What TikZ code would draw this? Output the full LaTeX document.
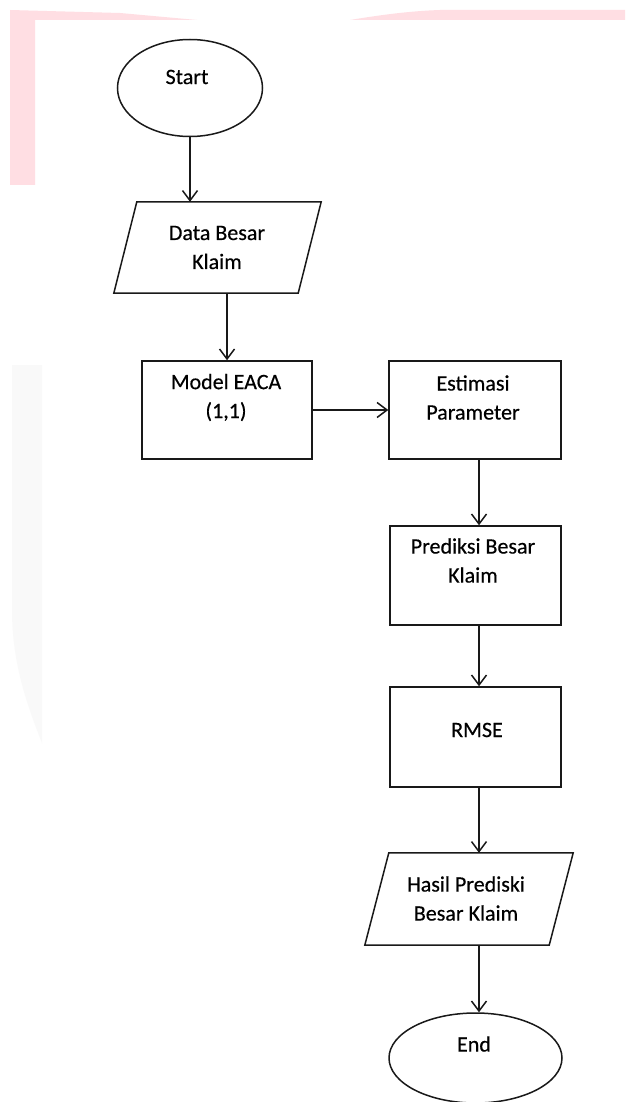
\documentclass[tikz,border=0pt]{standalone}
\usepackage{fontspec}
\setmainfont{Carlito}
\newfontfamily\flowfont[FakeBold=0.4]{Carlito}
\usetikzlibrary{arrows.meta,shapes.geometric}
\definecolor{wmpink}{RGB}{255,222,227}
\definecolor{wmgray}{RGB}{249,249,249}
\definecolor{ln}{RGB}{25,25,25}
\begin{document}
\begin{tikzpicture}[x=1pt,y=-1pt,
  procbox/.style={draw=ln,line width=1.5pt,rectangle,minimum width=171pt,minimum height=99pt,inner sep=0pt},
  term/.style={draw=ln,line width=1.5pt,ellipse,inner sep=0pt},
  iobound/.style={rectangle,inner sep=0pt},
  ioline/.style={draw=ln,line width=1.5pt,line join=miter},
  arr/.style={draw=ln,line width=1.5pt,-{Straight Barb[length=10pt,width=15pt,line width=1.5pt]}},
  txt/.style={font=\flowfont\fontsize{22}{29}\selectfont,align=center,inner sep=0pt,text=black}]
\useasboundingbox (0,0) rectangle (625,1102);
\fill[white] (0,0) rectangle (625,1102);
% watermark
\fill[wmpink] (10,10) -- (120,13) -- (197,20) -- (35,20) -- (35,185) -- (10,185) -- cycle;
\fill[wmpink] (350,20) .. controls (380,15) and (410,11) .. (440,10) -- (625,10) -- (625,20) -- cycle;
\fill[wmgray] (12,365) -- (42,365) -- (42,743) .. controls (25,700) and (12,660) .. (12,610) -- cycle;
% shapes
\node[term,minimum width=145pt,minimum height=97pt] (start) at (190,88) {};
\node[iobound,minimum width=207pt,minimum height=91pt] (data) at (217.5,247.5) {};
\draw[ioline] ([xshift=23pt]data.north west) -- (data.north east) -- ([xshift=-23pt]data.south east) -- (data.south west) -- cycle;
\node[procbox,minimum width=170pt,minimum height=98pt] (model) at (227,410) {};
\node[procbox,minimum width=172pt,minimum height=98pt] (est) at (475,410) {};
\node[procbox] (pred) at (475.5,575.5) {};
\node[procbox,minimum height=100pt] (rmse) at (475.5,737) {};
\node[iobound,minimum width=208pt,minimum height=92pt] (hasil) at (469,899) {};
\draw[ioline] ([xshift=24pt]hasil.north west) -- (hasil.north east) -- ([xshift=-24pt]hasil.south east) -- (hasil.south west) -- cycle;
\node[term,minimum width=173pt,minimum height=90pt] (end) at (475.5,1058) {};
% texts
\node[txt] (tstart) at (187,77) {Start};
\node[txt] (tdata) at (217,247.5) {Data Besar\\Klaim};
\node[txt] (tmodel) at (226,397.5) {Model EACA\\(1,1)};
\node[txt] (test) at (473,397.5) {Estimasi\\Parameter};
\node[txt] (tpred) at (473,560.5) {Prediksi Besar\\Klaim};
\node[txt] (trmse) at (477,730) {RMSE};
\node[txt] (thasil) at (466,898.5) {Hasil Prediski\\Besar Klaim};
\node[txt] (tend) at (474,1044) {End};
% connectors
\coordinate (col) at (479,0);
\draw[arr] (start.south) -- (start.south |- data.north);
\draw[arr] (data.south -| model.north) -- (model.north);
\draw[arr] (model.east) -- (est.west);
\draw[arr] (est.south -| col) -- (pred.north -| col);
\draw[arr] (pred.south -| col) -- (rmse.north -| col);
\draw[arr] (rmse.south -| col) -- (hasil.north -| col);
\draw[arr] (hasil.south -| col) -- (end.north -| col);
\end{tikzpicture}
\end{document}
